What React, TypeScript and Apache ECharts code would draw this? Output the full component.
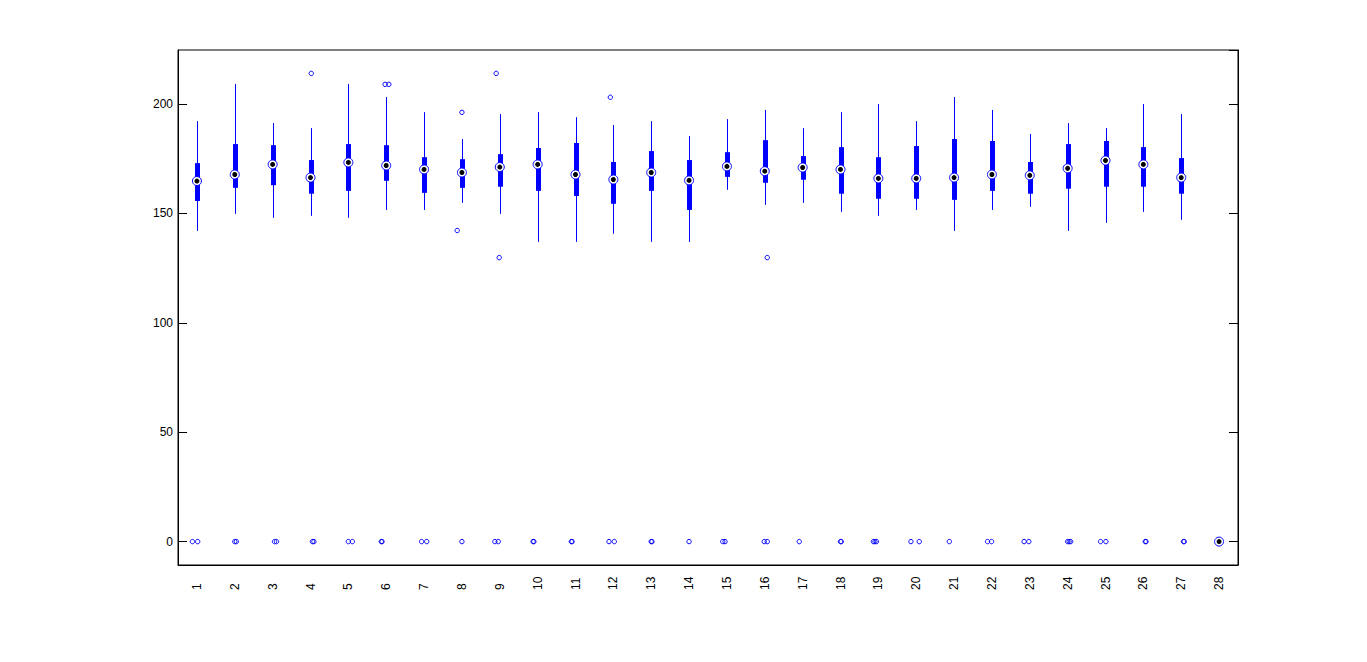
import React, { useEffect, useRef } from 'react';
import * as echarts from 'echarts';

const categories = ['1','2','3','4','5','6','7','8','9','10','11','12','13','14','15','16','17','18','19','20','21','22','23','24','25','26','27','28'];

const whiskerHigh = [192.2, 209.2, 191.3, 189.0, 209.2, 203.2, 196.3, 184.0, 195.4, 196.3, 194.0, 190.4, 192.2, 185.4, 193.1, 197.3, 189.0, 196.3, 200.0, 192.2, 203.2, 197.3, 186.3, 191.3, 189.0, 200.0, 195.4, 0];
const q3 = [173.0, 181.7, 181.2, 174.4, 181.7, 181.2, 175.7, 174.8, 177.1, 179.9, 182.2, 173.5, 178.5, 174.4, 178.0, 183.5, 176.2, 180.3, 175.7, 180.8, 184.0, 183.1, 173.5, 181.7, 183.1, 180.3, 175.3, 0];
const medians = [164.8, 167.8, 172.4, 166.4, 173.3, 171.9, 170.1, 168.7, 171.2, 172.4, 167.8, 165.5, 168.7, 165.1, 171.5, 169.3, 171.0, 170.1, 166.0, 166.0, 166.4, 167.8, 167.4, 170.6, 174.2, 172.4, 166.4, 0];
const q1 = [155.7, 161.7, 162.9, 159.0, 160.3, 164.9, 159.4, 161.7, 162.2, 160.3, 158.0, 154.4, 160.3, 151.6, 166.7, 164.0, 165.4, 159.0, 156.7, 156.7, 156.2, 160.3, 159.0, 161.3, 162.2, 162.2, 159.0, 0];
const whiskerLow = [142.0, 149.8, 148.0, 148.9, 148.0, 151.6, 151.6, 154.8, 149.8, 137.0, 137.0, 140.7, 137.0, 137.0, 160.8, 153.9, 154.8, 150.7, 148.9, 151.6, 142.0, 151.6, 153.0, 142.0, 145.7, 150.7, 147.1, 0];

// outliers: [category index (0-based), value, horizontal jitter in category widths]
const outliers: [number, number, number][] = [
  [0, 0, -0.12], [0, 0, 0.02],
  [1, 0, 0.0], [1, 0, 0.04],
  [2, 0, 0.05], [2, 0, 0.1],
  [3, 0, 0.05], [3, 0, 0.09], [3, 214.0, 0.02],
  [4, 0, 0.0], [4, 0, 0.105],
  [5, 0, -0.13], [5, 0, -0.11], [5, 209.0, -0.03], [5, 209.0, 0.07],
  [6, 0, -0.065], [6, 0, 0.07],
  [7, 0, 0.0], [7, 196.2, 0.0], [7, 142.2, -0.125],
  [8, 0, -0.13], [8, 0, -0.04], [8, 214.0, -0.095], [8, 129.8, -0.015],
  [9, 0, -0.12], [9, 0, -0.1],
  [10, 0, -0.11], [10, 0, -0.09],
  [11, 0, -0.115], [11, 0, 0.025], [11, 203.1, -0.08],
  [12, 0, 0.0], [12, 0, 0.02],
  [13, 0, 0.0],
  [14, 0, -0.11], [14, 0, -0.05],
  [15, 0, -0.015], [15, 0, 0.065], [15, 129.8, 0.065],
  [16, 0, -0.09],
  [17, 0, 0.0], [17, 0, 0.02],
  [18, 0, -0.13], [18, 0, -0.09], [18, 0, -0.05],
  [19, 0, -0.14], [19, 0, 0.08],
  [20, 0, -0.125],
  [21, 0, -0.115], [21, 0, -0.01],
  [22, 0, -0.15], [22, 0, -0.025],
  [23, 0, 0.0], [23, 0, 0.04], [23, 0, 0.08],
  [24, 0, -0.13], [24, 0, 0.01],
  [25, 0, 0.05], [25, 0, 0.07],
  [26, 0, 0.06], [26, 0, 0.08],
];

const BLUE = '#0000ff';
const FONT = '"Liberation Sans", Arial, Helvetica, sans-serif';

export default function App() {
  const ref = useRef<HTMLDivElement>(null);
  useEffect(() => {
    if (!ref.current) return;
    const chart = echarts.init(ref.current, undefined, { renderer: 'svg' });

    const boxData = categories.map((_, i) => [i, whiskerLow[i], q1[i], medians[i], q3[i], whiskerHigh[i]]);
    const medianData = categories.map((_, i) => [i, medians[i]]);

    const yCommon = {
      type: 'value',
      min: -10.7,
      max: 224.7,
      splitNumber: 5,
      splitLine: { show: false },
      axisLine: { show: true, lineStyle: { color: '#000', width: 1 } },
      axisTick: { show: true, inside: true, length: 9, lineStyle: { color: '#000' } },
    };

    chart.setOption({
      animation: false,
      backgroundColor: '#fff',
      grid: { left: 178, right: 129, top: 50, bottom: 97, show: true, borderColor: '#000', borderWidth: 1, backgroundColor: 'transparent' },
      xAxis: {
        type: 'category',
        data: categories,
        boundaryGap: true,
        axisLine: { show: true, onZero: false, lineStyle: { color: '#000' } },
        axisTick: { show: false },
        splitLine: { show: false },
        axisLabel: {
          rotate: 90,
          align: 'left',
          verticalAlign: 'middle',
          margin: 25,
          fontSize: 12,
          fontFamily: FONT,
          color: '#000',
          interval: 0,
        },
      },
      yAxis: [
        {
          ...yCommon,
          position: 'left',
          axisLabel: {
            show: true,
            fontSize: 12,
            fontFamily: FONT,
            color: '#000',
            margin: 5,
            showMinLabel: false,
            showMaxLabel: false,
            formatter: (v: number) => (Math.abs(v % 50) < 1e-9 ? String(v) : ''),
          },
        },
        {
          ...yCommon,
          position: 'right',
          axisLabel: { show: false },
        },
      ],
      series: [
        {
          type: 'custom',
          name: 'boxes',
          xAxisIndex: 0,
          yAxisIndex: 0,
          data: boxData,
          z: 2,
          renderItem: (params: any, api: any) => {
            const idx = api.value(0);
            const x = Math.round(api.coord([idx, 0])[0]) + 0.5;
            const yLow = api.coord([idx, api.value(1)])[1];
            const yQ1 = api.coord([idx, api.value(2)])[1];
            const yQ3 = api.coord([idx, api.value(4)])[1];
            const yHigh = api.coord([idx, api.value(5)])[1];
            const w = 5;
            return {
              type: 'group',
              children: [
                {
                  type: 'line',
                  shape: { x1: x, y1: yHigh, x2: x, y2: yLow },
                  style: { stroke: BLUE, lineWidth: 1 },
                },
                {
                  type: 'rect',
                  shape: { x: x - w / 2, y: yQ3, width: w, height: yQ1 - yQ3 },
                  style: { fill: BLUE, stroke: null },
                },
              ],
            };
          },
        },
        {
          type: 'custom',
          name: 'outliers',
          data: outliers,
          z: 3,
          renderItem: (params: any, api: any) => {
            const idx = api.value(0);
            const pt = api.coord([idx, api.value(1)]);
            const band = api.size([1, 0])[0];
            return {
              type: 'circle',
              shape: { cx: pt[0] + api.value(2) * band, cy: pt[1], r: 2.2 },
              style: { fill: 'none', stroke: BLUE, lineWidth: 1 },
            };
          },
        },
        {
          type: 'scatter',
          name: 'median ring',
          data: medianData,
          symbol: 'circle',
          symbolSize: 9,
          z: 4,
          itemStyle: { color: '#fff', borderColor: BLUE, borderWidth: 1, opacity: 1 },
          emphasis: { disabled: true },
        },
        {
          type: 'scatter',
          name: 'median dot',
          data: medianData,
          symbol: 'circle',
          symbolSize: 5,
          z: 5,
          itemStyle: { color: '#000', opacity: 1 },
          emphasis: { disabled: true },
        },
      ],
    });

    return () => chart.dispose();
  }, []);

  return <div ref={ref} style={{ position: 'absolute', left: 0, top: 0, width: 1367, height: 662 }} />;
}
